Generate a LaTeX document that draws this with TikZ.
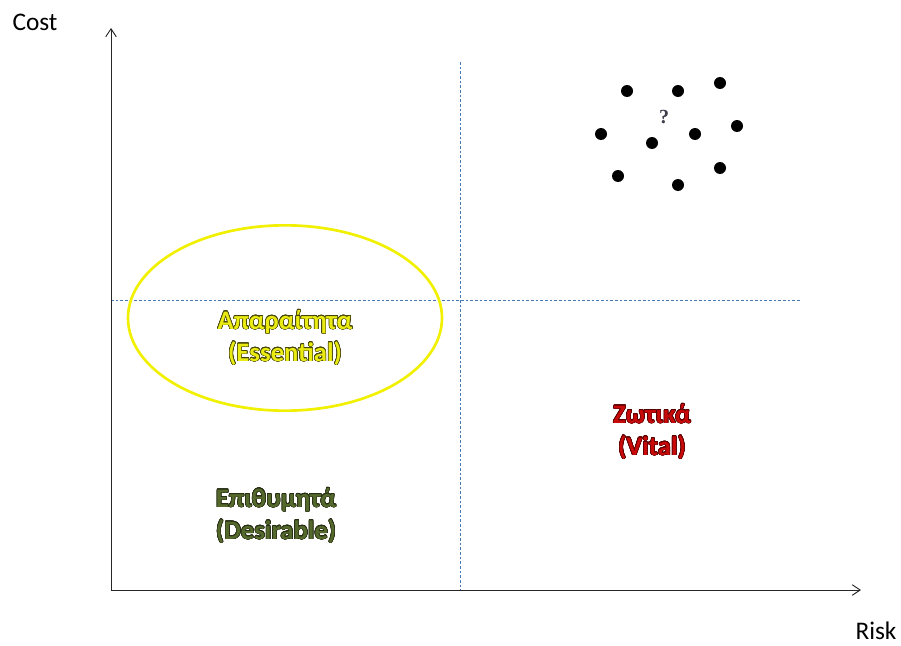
\documentclass[tikz,border=0pt]{standalone}
\usepackage{fontspec}
\setmainfont{Carlito}
\usepackage[copies]{contour}
\usetikzlibrary{arrows.meta,shapes.geometric}
\contourlength{0.4pt}
\contournumber{24}
\definecolor{essfill}{RGB}{235,235,20}
\definecolor{essline}{RGB}{70,70,10}
\definecolor{vitfill}{RGB}{200,10,10}
\definecolor{vitline}{RGB}{90,0,0}
\definecolor{desfill}{RGB}{85,105,45}
\definecolor{desline}{RGB}{40,45,20}
\definecolor{guide}{RGB}{70,120,180}
\definecolor{ellcol}{RGB}{240,240,0}
\definecolor{qcol}{RGB}{60,60,75}
\tikzset{
  axis/.style={line width=0.7pt, black!85, -{Straight Barb[length=6pt,width=8pt]}},
  guideline/.style={guide, line width=0.5pt, dash pattern=on 2pt off 1.5pt},
  lbl/.style={font=\fontsize{19}{23}\selectfont, align=center, inner sep=0pt},
  quad/.style={font=\bfseries\fontsize{20}{24}\selectfont, align=center, inner sep=0pt},
  dot/.style={circle, fill=black, inner sep=0pt, minimum size=9pt},
}
\begin{document}
\begin{tikzpicture}[x=0.75pt,y=-0.75pt]
\useasboundingbox (0,0) rectangle (901,646);
\coordinate (O) at (111,590);
\coordinate (ytip) at (111,28);
\coordinate (xtip) at (861,590);
\coordinate (vtop) at (460,62);
\coordinate (vbot) at (460,590);
\coordinate (hl) at (111,300);
\coordinate (hr) at (800,300);
\draw[guideline] (vtop) -- (vbot);
\draw[guideline] (hl) -- (hr);
\draw[axis] (O) -- (ytip);
\draw[axis] (O) -- (xtip);
\node[lbl] (cost) at (35,22) {Cost};
\node[lbl] (risk) at (876,631) {Risk};
\node[draw=ellcol, line width=2pt, ellipse, minimum width=235.5pt, minimum height=139pt] (ell) at (285,318) {};
\node[quad] (ess) at (285,338) {\contour{essline}{\textcolor{essfill}{Απαραίτητα}}\\\contour{essline}{\textcolor{essfill}{(Essential)}}};
\node[quad] (vit) at (652,432) {\contour{vitline}{\textcolor{vitfill}{Ζωτικά}}\\\contour{vitline}{\textcolor{vitfill}{(Vital)}}};
\node[quad] (des) at (276,516) {\contour{desline}{\textcolor{desfill}{Επιθυμητά}}\\\contour{desline}{\textcolor{desfill}{(Desirable)}}};
\node[dot] (d1) at (627,91) {};
\node[dot] (d2) at (678,91) {};
\node[dot] (d3) at (720,83) {};
\node[dot] (d4) at (601,134) {};
\node[dot] (d5) at (652,143) {};
\node[dot] (d6) at (695,134) {};
\node[dot] (d7) at (737,126) {};
\node[dot] (d8) at (618,176) {};
\node[dot] (d9) at (678,185) {};
\node[dot] (d10) at (720,168) {};
\node[font=\setmainfont{Liberation Serif}\bfseries\fontsize{15}{17}\selectfont, text=qcol, inner sep=0pt] (q) at (664,117) {?};
\end{tikzpicture}
\end{document}
